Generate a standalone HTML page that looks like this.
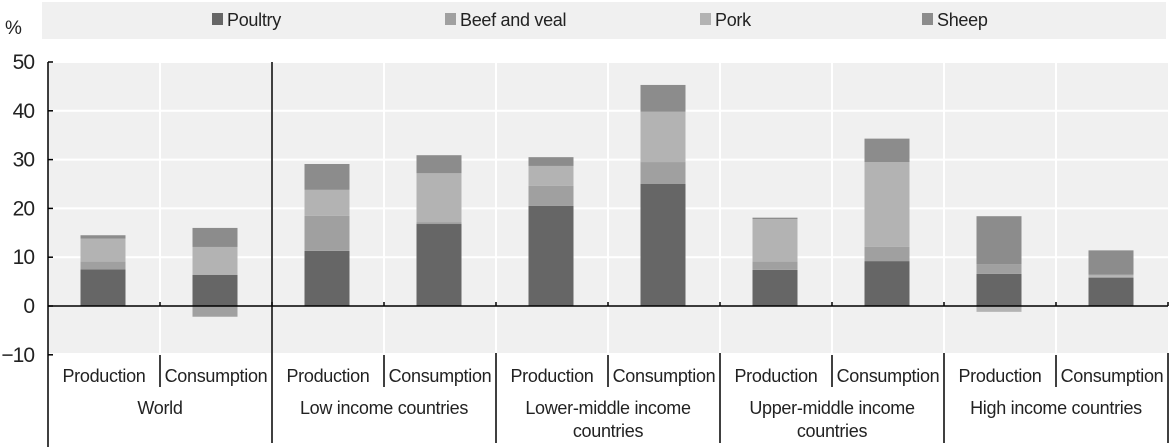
<!DOCTYPE html>
<html><head><meta charset="utf-8"><style>
html,body{margin:0;padding:0;background:#fff;}
svg{display:block;font-family:"Liberation Sans",Arial,sans-serif;}
</style></head><body>
<svg id="chart" width="1169" height="447" viewBox="0 0 1169 447">
<rect x="42" y="2" width="1124" height="37" fill="#f0f0f0"/>
<g id="legend"></g>
<rect x="48" y="62" width="1120" height="291" fill="#f0f0f0"/>
<g id="grid"></g>
<g id="bars"></g>
<g id="axes"></g>
<text x="5" y="34" font-size="19" fill="#222">%</text>
</svg>
<script>
const categories = ["Production","Consumption","Production","Consumption","Production","Consumption","Production","Consumption","Production","Consumption"];
const groups = [["World"],["Low income countries"],["Lower-middle income","countries"],["Upper-middle income","countries"],["High income countries"]];
const seriesNames = ["Poultry","Beef and veal","Pork","Sheep"];
const poultry = [7.5, 6.4, 11.3, 16.8, 20.5, 25.0, 7.4, 9.2, 6.6, 5.8];
const beef    = [1.6, -2.2, 7.2, 0.4, 4.1, 4.5, 1.7, 2.9, 2.0, 0.2];
const pork    = [4.7, 5.7, 5.3, 10.0, 4.1, 10.3, 8.7, 17.4, -1.2, 0.4];
const sheep   = [0.7, 3.9, 5.3, 3.7, 1.8, 5.5, 0.3, 4.8, 9.8, 5.0];
const yTicks = [-10, 0, 10, 20, 30, 40, 50];
const colors = ["#666666","#a0a0a0","#b3b3b3","#8c8c8c"];
const NS = "http://www.w3.org/2000/svg";
const X0 = 48, SLOT = 112, Y0 = 306, UNIT = 4.88;
function y(v){ return Y0 - v*UNIT; }
function xc(i){ return X0 + SLOT*i + SLOT/2 - 1; }
function mk(tag, attrs, parent){ const e=document.createElementNS(NS,tag); for(const k in attrs) e.setAttribute(k,attrs[k]); parent.appendChild(e); return e; }
const grid=document.getElementById('grid'), bars=document.getElementById('bars'), axes=document.getElementById('axes'), legend=document.getElementById('legend');
yTicks.forEach(t=>{
  if(t!==0 && t!==-10){ const l=mk('line',{x1:X0,x2:1168,y1:y(t),y2:y(t),stroke:'#fff','stroke-width':2},grid);
    
     }
  const tx=mk('text',{x:34,y:y(t)+7,'font-size':21,'text-anchor':'end',fill:'#222','letter-spacing':'-1'},axes);
  tx.textContent = t<0 ? '\u2212'+Math.abs(t) : t;
  
  
  const tk=mk('line',{x1:X0,x2:X0+5,y1:y(t),y2:y(t),stroke:'#000','stroke-width':1.5},axes);
  
  
});
for(let i=1;i<10;i++){ const gl=mk('line',{x1:X0+SLOT*i,x2:X0+SLOT*i,y1:62,y2:353,stroke:'#fff','stroke-width':2},grid);
  
   }
const series=[poultry,beef,pork,sheep];
for(let i=0;i<categories.length;i++){
  let pos=0, neg=0;
  series.forEach((s,k)=>{
    const v=s[i]; let a,b;
    if(v>=0){ a=pos; b=pos+v; pos=b; } else { a=neg+v; b=neg; neg=a; }
    const r=mk('rect',{x:xc(i)-22.5,width:45,y:y(b),height:Math.max(0,y(a)-y(b)),fill:colors[k]},bars);
    
    
  });
}
mk('line',{x1:X0,x2:X0,y1:62,y2:447,stroke:'#000','stroke-width':1.5},axes);
mk('line',{x1:X0,x2:1168,y1:Y0,y2:Y0,stroke:'#000','stroke-width':1.5},axes);
for(let i=1;i<=10;i++){
  const xx=X0+SLOT*i;
  mk('line',{x1:xx,x2:xx,y1:Y0-4,y2:Y0,stroke:'#000','stroke-width':1.5},axes);
  if(i%2===0){ mk('line',{x1:xx,x2:xx,y1:i===2?62:353,y2:443,stroke:'#000','stroke-width':1.5},axes); }
  else { mk('line',{x1:xx,x2:xx,y1:355,y2:387,stroke:'#000','stroke-width':1.5},axes); }
}
categories.forEach((c,i)=>{
  const t=mk('text',{x:xc(i)+1,y:382,'font-size':18,'text-anchor':'middle',fill:'#222','letter-spacing':'-0.3'},axes);
  t.textContent=c;
  
  
});
groups.forEach((g,j)=>{
  g.forEach((line,li)=>{
    const t=mk('text',{x:X0+SLOT*(2*j+1),y:414+li*23,'font-size':18,'text-anchor':'middle',fill:'#222','letter-spacing':'-0.3'},axes);
    t.textContent=line;
    
    
  });
});
const lx=[212,445,700,922];
seriesNames.forEach((n,k)=>{
  const r=mk('rect',{x:lx[k],y:13,width:11,height:12,fill:colors[k]},legend);
  
  
  const t=mk('text',{x:lx[k]+15,y:26,'font-size':18,fill:'#222','letter-spacing':'-0.3'},legend);
  t.textContent=n;
  
  
});
</script>
</body></html>
